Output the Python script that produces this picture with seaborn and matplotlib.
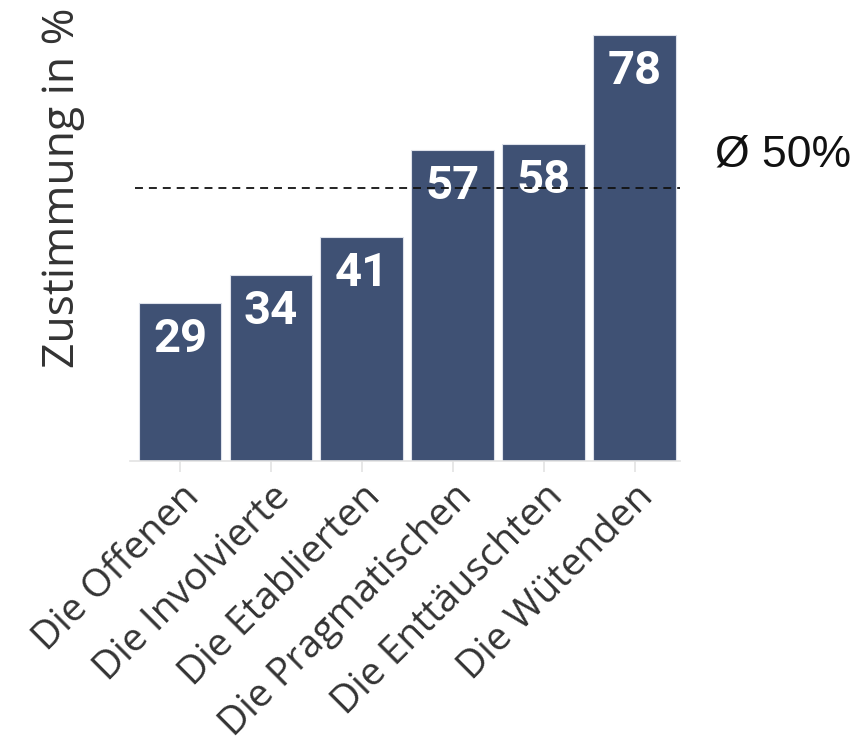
import matplotlib
matplotlib.use("Agg")
import matplotlib.pyplot as plt
import seaborn as sns
import pandas as pd

categories = ["Die Offenen", "Die Involvierte", "Die Etablierten",
              "Die Pragmatischen", "Die Enttäuschten", "Die Wütenden"]
values = [29, 34, 41, 57, 58, 78]
average = 50
ylabel = "Zustimmung in %"
avg_label = "Ø 50%"

sns.set_theme(style="white")
plt.rcParams['font.family'] = ['Open Sans', 'DejaVu Sans']

df = pd.DataFrame({"cat": categories, "val": values})

fig = plt.figure(figsize=(8.54, 7.44), dpi=100)
ax = fig.add_axes([130/854, 1-461/744, (680-130)/854, (461-24)/744])

sns.barplot(data=df, x="cat", y="val", color="#3f5174", saturation=1,
            width=0.91, edgecolor="#dde1ea", linewidth=0.8, ax=ax)

ax.set_xlim(-0.55, 5.5)
ax.set_ylim(0, 80)

for i, v in enumerate(values):
    ax.text(i, v - 6.6, str(v), ha="center", va="center", color="white",
            fontsize=34, fontweight="bold", fontstretch="condensed",
            family=["Roboto", "DejaVu Sans"])

ax.hlines(average, -0.5, 5.5, color="#111111", linestyle=(0, (4.4, 3.3)),
          linewidth=1.3, zorder=5)
ax.text((715-130)/550, average + 6, avg_label, transform=ax.get_yaxis_transform(),
        ha="left", va="center", fontsize=32, color="#111111",
        family=["Liberation Sans", "DejaVu Sans"])

for s in ["top", "right", "left"]:
    ax.spines[s].set_visible(False)
ax.spines["bottom"].set_color("#e3e3e3")
ax.spines["bottom"].set_linewidth(1.2)
ax.set_yticks([])
ax.tick_params(axis="x", bottom=True, length=8, width=1.2, color="#e3e3e3",
               labelsize=28, labelcolor="#333333", pad=4)
ax.set_xticks(range(len(categories)))
ax.set_xticklabels(categories, rotation=45, ha="right", rotation_mode="anchor")
ax.set_xlabel("")
ax.set_ylabel("")
fig.text(63/854, 1-188/744, ylabel, rotation=90, ha="center", va="center",
         fontsize=32, color="#333333")

fig.savefig("out.png", dpi=100)
